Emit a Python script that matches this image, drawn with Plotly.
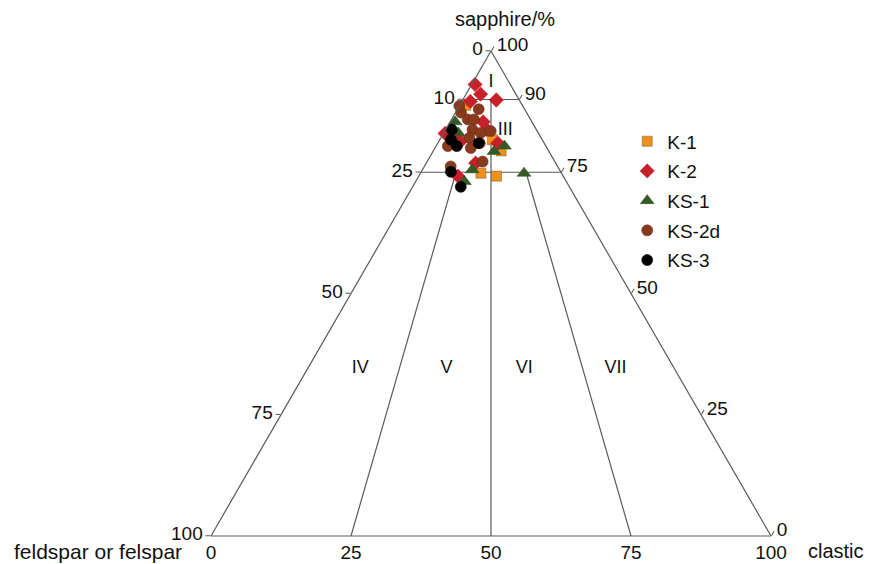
import plotly.graph_objects as go

# ---- data: (sapphire %, feldspar %, clastic %) ----
k1_sapphire = [91.5, 88.8, 81.7, 79.4, 74.8, 74.2]
k1_feldspar = [9.1, 10.1, 8.9, 8.5, 14.4, 11.9]
k1_clastic = [-0.6, 1.1, 9.4, 12.1, 10.8, 13.9]

k2_sapphire = [93.1, 91.1, 89.9, 89.6, 85.4, 83.8, 83.0, 81.4, 81.0, 76.9, 74.2]
k2_feldspar = [6.3, 6.3, 4.1, 8.9, 8.7, 8.9, 16.7, 14.7, 8.3, 14.3, 18.8]
k2_clastic = [0.6, 2.6, 6.0, 1.5, 5.9, 7.3, 0.3, 3.9, 10.7, 8.8, 7.0]

ks1_sapphire = [85.4, 83.1, 80.4, 79.3, 75.5, 74.8, 73.1]
ks1_feldspar = [13.7, 14.3, 7.4, 9.8, 15.6, 6.7, 18.2]
ks1_clastic = [0.9, 2.6, 12.2, 10.9, 8.9, 18.5, 8.7]

ks2d_sapphire = [88.0, 87.3, 85.9, 83.8, 83.1, 83.5, 82.1, 81.0, 80.0, 80.4, 81.9, 88.7, 77.2, 76.2, 82.4, 85.9]
ks2d_feldspar = [8.2, 11.7, 11.2, 11.4, 10.3, 8.3, 12.8, 11.5, 13.6, 17.5, 18.9, 11.3, 12.9, 19.1, 15.7, 10.1]
ks2d_clastic = [3.8, 1.0, 2.9, 4.8, 6.6, 8.2, 5.1, 7.5, 6.4, 2.1, -0.8, 0.0, 9.9, 4.7, 1.9, 4.0]

ks3_sapphire = [89.7, 86.9, 84.9, 83.8, 81.7, 80.4, 72.0, 75.1, 81.0]
ks3_feldspar = [10.5, 14.0, 16.2, 15.1, 16.3, 15.9, 19.4, 19.6, 11.7]
ks3_clastic = [-0.2, -0.9, -1.1, 1.1, 2.0, 3.7, 8.6, 5.3, 7.3]

# classification boundaries (sapphire, feldspar, clastic) pairs
boundaries = [
    ([90, 90], [10, 0], [0, 10]),
    ([75, 75], [25, 0], [0, 25]),
    ([90, 0], [5, 50], [5, 50]),
    ([75, 0], [18.75, 75], [6.25, 25]),
    ([75, 0], [6.25, 25], [18.75, 75]),
]

region_names = ["I", "III", "IV", "V", "VI", "VII"]
region_sapphire = [93.6, 83.7, 34.5, 34.5, 34.5, 34.5]
region_feldspar = [3.2, 5.6, 56.1, 40.7, 26.8, 10.5]
region_clastic = [3.2, 10.7, 9.4, 24.8, 38.7, 55.0]

# tick labels
a_tickvals = [0, 25, 50, 75, 90, 100]
a_ticktext = ["100", "75", "50", "25", "10", "0"]
b_tickvals = [100, 75, 50, 25, 0]
b_ticktext = ["0", "25", "50", "75", "100"]
c_tickvals = [0, 10, 25, 50, 75, 100]
c_ticktext = ["100", "90", "75", "50", "25", "0"]

# axis titles
title_top = "sapphire/%"
title_left = "feldspar or felspar"
title_right = "clastic"

FONT = "Liberation Sans, Arial, sans-serif"
LINE = "#5a5a5a"
TXT = "#111111"

fig = go.Figure()

for sa, fe, cl in boundaries:
    fig.add_trace(go.Scatterternary(a=sa, b=fe, c=cl, mode="lines",
                                    line=dict(color=LINE, width=1.2),
                                    showlegend=False, hoverinfo="skip"))

fig.add_trace(go.Scatterternary(a=region_sapphire, b=region_feldspar, c=region_clastic,
                                mode="text", text=region_names,
                                textfont=dict(family=FONT, size=18, color=TXT),
                                showlegend=False, hoverinfo="skip"))

series = [
    ("K-1", k1_sapphire, k1_feldspar, k1_clastic, "square", "#f0901c", 10, "#8a6a40"),
    ("K-2", k2_sapphire, k2_feldspar, k2_clastic, "diamond", "#c7202b", 11, "#c7202b"),
    ("KS-1", ks1_sapphire, ks1_feldspar, ks1_clastic, "triangle-up", "#365a27", 12, "#365a27"),
    ("KS-2d", ks2d_sapphire, ks2d_feldspar, ks2d_clastic, "circle", "#8a3a1c", 11, "#6a2a10"),
    ("KS-3", ks3_sapphire, ks3_feldspar, ks3_clastic, "circle", "#000000", 11, "#000000"),
]
for name, sa, fe, cl, sym, col, sz, lc in series:
    fig.add_trace(go.Scatterternary(a=sa, b=fe, c=cl, mode="markers", name=name,
                                    legendgroup=name, cliponaxis=False,
                                    marker=dict(symbol=sym, color=col, size=sz,
                                                line=dict(color=lc, width=0.6))))

axis_common = dict(showgrid=False, linecolor=LINE, linewidth=1.2, ticks="outside",
                   ticklen=5, tickcolor=LINE, tickfont=dict(family=FONT, size=19, color=TXT),
                   min=0, title=dict(text=""))

fig.update_layout(
    width=876, height=564,
    margin=dict(l=0, r=0, t=0, b=0),
    paper_bgcolor="white",
    font=dict(family=FONT, size=18, color=TXT),
    ternary=dict(
        sum=100,
        bgcolor="white",
        domain=dict(x=[211 / 876, 771 / 876], y=[(564 - 536) / 564, (564 - 51) / 564]),
        aaxis=dict(axis_common, tickmode="array", tickvals=a_tickvals, ticktext=a_ticktext),
        baxis=dict(axis_common, tickmode="array", tickvals=b_tickvals, ticktext=b_ticktext,
                   ticks="", ticklen=0),
        caxis=dict(axis_common, tickmode="array", tickvals=c_tickvals, ticktext=c_ticktext),
    ),
    showlegend=True,
    legend=dict(x=0.716, y=0.783, xanchor="left", yanchor="top",
                font=dict(family=FONT, size=19, color=TXT),
                traceorder="grouped", tracegroupgap=2, bgcolor="rgba(0,0,0,0)"),
    annotations=[
        dict(text=title_top, x=505 / 876, y=1 - 19 / 564, xref="paper", yref="paper",
             xanchor="center", yanchor="middle", showarrow=False,
             font=dict(family=FONT, size=20, color=TXT)),
        dict(text=title_left, x=184 / 876, y=1 - 551 / 564, xref="paper", yref="paper",
             xanchor="right", yanchor="middle", showarrow=False,
             font=dict(family=FONT, size=21, color=TXT)),
        dict(text=title_right, x=806 / 876, y=1 - 551 / 564, xref="paper", yref="paper",
             xanchor="left", yanchor="middle", showarrow=False,
             font=dict(family=FONT, size=20, color=TXT)),
    ],
)

fig.write_html("out.html")
